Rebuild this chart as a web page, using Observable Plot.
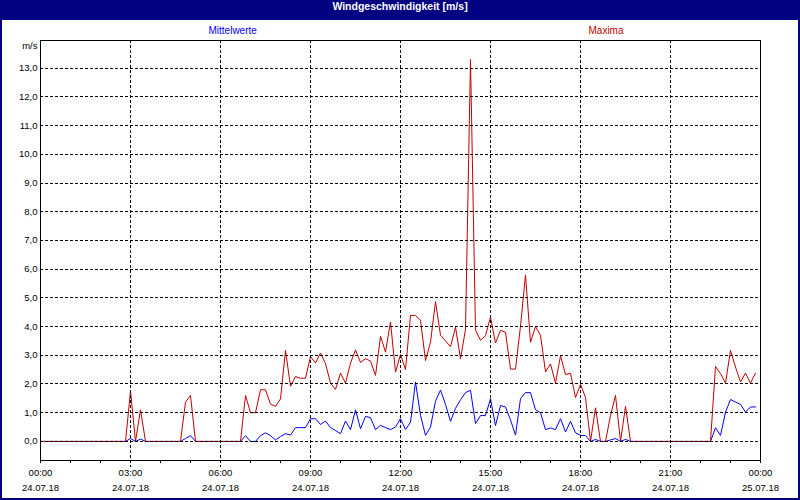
<!DOCTYPE html>
<html><head><meta charset="utf-8">
<script src="https://cdn.jsdelivr.net/npm/d3@7"></script>
<script src="https://cdn.jsdelivr.net/npm/@observablehq/plot@0.6"></script>
<style>
html,body{margin:0;padding:0;background:#fff}
#frame{position:relative;width:800px;height:500px;background:#000080;overflow:hidden}
#title{position:absolute;left:0;top:0;width:800px;height:20px;line-height:20px;text-align:center;color:#fff;font:bold 10.5px "Liberation Sans",Arial,sans-serif}
#chart{position:absolute;left:2px;top:20px;width:796px;height:478px;background:#fff}
</style></head><body>
<div id="frame"><div id="title"></div><div id="chart"></div></div>
<script>
const title = "Windgeschwindigkeit [m/s]";
const seriesNames = ["Mittelwerte", "Maxima"];
const unitLabel = "m/s";
const stepMinutes = 10;

const maxima = [
  0,0,0,0,0,0,0,0,0,0, 0,0,0,0,0,0,0,0,
  1.75,0,1.1,
  0,0,0,0,0,0,0,0,
  1.37,1.6,
  0,0,0,0,0,0,0,0,0,0,
  1.6,1.0,1.0,1.8,1.8,1.3,1.22,1.48,
  3.17,1.92,2.26,2.2,2.2,2.96,2.73,3.08,2.71,2.03,
  1.81,2.38,2.03,2.73,3.19,2.75,2.88,2.8,2.3,3.66,
  3.11,4.16,2.41,3.03,2.5,4.39,4.39,4.22,2.82,3.46,
  4.87,3.7,3.5,3.3,3.98,2.88,3.9,13.3,3.87,3.52,
  3.69,4.33,3.43,3.87,3.8,2.52,2.52,4.02,5.8,3.45,
  4.0,3.7,2.42,2.7,2.03,2.98,2.33,2.37,1.53,1.99,
  1.53,0,1.17,0,0,0.9,1.6,0,1.22,0,
  0,0,0,0,0,0,0,0,0,0,0,0,0,0,0,0,
  2.61,2.36,2.03,3.17,2.59,2.07,2.38,2.03,2.38
];
const mittelwerte = [
  0,0,0,0,0,0,0,0,0,0, 0,0,0,0,0,0,0,0,
  0.1,0,0.08,
  0,0,0,0,0,0,0,0,
  0.1,0.2,
  0,0,0,0,0,0,0,0,0,0,
  0.2,0,0,0.2,0.3,0.2,0.05,0.17,
  0.27,0.22,0.48,0.48,0.48,0.79,0.79,0.59,0.71,0.48,
  0.38,0.27,0.71,0.41,1.1,0.44,0.87,0.83,0.41,0.56,
  0.48,0.41,0.5,0.79,0.41,0.67,2.07,0.91,0.21,0.5,
  1.4,1.79,1.29,0.7,1.15,1.45,1.7,1.78,0.62,0.9,
  0.9,1.49,0.55,1.25,1.2,0.75,0.22,1.49,1.7,1.7,
  1.1,1.0,0.41,0.47,0.41,0.79,0.33,0.7,0.3,0.21,
  0.2,0,0.07,0,0,0.05,0.1,0,0.07,0,
  0,0,0,0,0,0,0,0,0,0,0,0,0,0,0,0,
  0.48,0.21,1.02,1.46,1.37,1.29,1.02,1.2,1.2
];

const majorTicks = [0,180,360,540,720,900,1080,1260,1440];
const timeLabels = ["00:00","03:00","06:00","09:00","12:00","15:00","18:00","21:00","00:00"];
const dateLabels = ["24.07.18","24.07.18","24.07.18","24.07.18","24.07.18","24.07.18","24.07.18","24.07.18","25.07.18"];
const hourTicks = [0,60,120,180,240,300,360,420,480,540,600,660,720,780,840,900,960,1020,1080,1140,1200,1260,1320,1380,1440];
const yTicks = [0,1,2,3,4,5,6,7,8,9,10,11,12,13];
const yDomain = [-0.665, 13.965];

document.getElementById("title").textContent = title;

const data = maxima.map((v, i) => ({t: i * stepMinutes, max: v, mean: mittelwerte[i]}));
const font = '"Liberation Sans", Arial, sans-serif';
const fmt = d => d.toFixed(1).replace(".", ",");

const chart = Plot.plot({
  width: 796, height: 478,
  marginLeft: 38, marginRight: 38, marginTop: 20, marginBottom: 38,
  style: {fontFamily: font, fontSize: "9.5px", color: "black", background: "white", overflow: "visible"},
  x: {domain: [0, 1440], label: null},
  y: {domain: yDomain, label: null},
  marks: [
    Plot.line(data, {x: "t", y: "mean", stroke: "#0000ff", strokeWidth: 1}),
    Plot.line(data, {x: "t", y: "max", stroke: "#c00000", strokeWidth: 1}),
    Plot.ruleY(yTicks, {y: d => d, stroke: "black", strokeDasharray: "3,2", shapeRendering: "crispEdges"}),
    Plot.ruleX(majorTicks.slice(1, -1), {x: d => d, stroke: "black", strokeDasharray: "3,2", insetBottom: -7, shapeRendering: "crispEdges"}),
    Plot.axisX({ticks: hourTicks, tickSize: 3, tickFormat: () => "", label: null, shapeRendering: "crispEdges"}),
    Plot.axisX({ticks: majorTicks, tickSize: 0, tickPadding: 9, label: null, tickFormat: d => timeLabels[majorTicks.indexOf(d)]}),
    Plot.axisX({ticks: majorTicks, tickSize: 0, tickPadding: 24, label: null, tickFormat: d => dateLabels[majorTicks.indexOf(d)]}),
    Plot.axisY({ticks: yTicks, tickSize: 0, tickPadding: 3, label: null, tickFormat: fmt}),
    Plot.frame({stroke: "black", shapeRendering: "crispEdges"}),
    Plot.text([unitLabel], {text: d => d, frameAnchor: "top-left", lineAnchor: "middle", dx: -3, dy: 5, textAnchor: "end"}),
    Plot.text([seriesNames[0]], {text: d => d, frameAnchor: "top-left", lineAnchor: "middle", dx: 168, dy: -10, fill: "#0000ff", fontSize: 10}),
    Plot.text([seriesNames[1]], {text: d => d, frameAnchor: "top-left", lineAnchor: "middle", dx: 548, dy: -10, fill: "#c00000", fontSize: 10})
  ]
});
document.getElementById("chart").appendChild(chart);
</script>
</body></html>
